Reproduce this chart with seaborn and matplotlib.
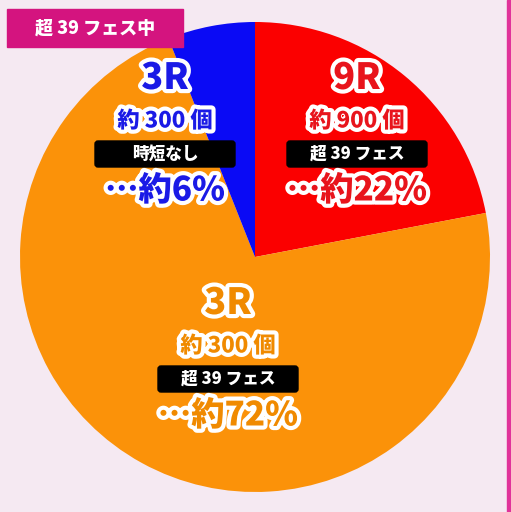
import matplotlib
matplotlib.use("Agg")
import matplotlib.pyplot as plt
import matplotlib.patheffects as pe
from matplotlib.patches import Rectangle, FancyBboxPatch
import seaborn as sns

sns.set_style("white")
plt.rcParams['font.family'] = ['Noto Sans CJK JP', 'DejaVu Sans']

labels = ["9R", "3R", "3R"]
counts = ["約 900 個", "約 300 個", "約 300 個"]
tags = ["超 39 フェス", "超 39 フェス", "時短なし"]
shares = [22, 72, 6]
colors = ["#fb0000", "#fb9209", "#0a0af5"]
text_colors = ["#e8141c", "#f08a00", "#1a1ae6"]
title = "超 39 フェス中"

H = 512
fig = plt.figure(figsize=(5.11, 5.12), dpi=100)
fig.patch.set_facecolor("#f5e9f2")
ax = fig.add_axes([0, 0, 1, 1])

ax.pie(shares, colors=colors, startangle=90, counterclock=False,
       center=(255, H - 257), radius=235, wedgeprops=dict(linewidth=0))
ax.set_xlim(0, 511); ax.set_ylim(0, H)
ax.set_aspect("auto")
ax.axis("off")

def Y(y):
    return H - y

ax.add_patch(Rectangle((507, 0), 4, H, color="#e0339a", zorder=5))
ax.add_patch(Rectangle((7, Y(47)), 176, 38, color="#d4147f", zorder=5))
ax.text(95, Y(28), title, color="white", fontsize=13, fontweight="heavy",
        ha="center", va="center", zorder=6)

stroke = [pe.withStroke(linewidth=6, foreground="white")]
pos = [(357, 78), (228, 303), (165, 78)]
for (x, y), lab, cnt, tag, sh, tc in zip(pos, labels, counts, tags, shares, text_colors):
    ax.text(x, Y(y), lab, color=tc, fontsize=26, fontweight="heavy", ha="center",
            va="center", path_effects=stroke, zorder=6)
    ax.text(x, Y(y + 43), cnt, color=tc, fontsize=16, fontweight="heavy", ha="center",
            va="center", path_effects=stroke, zorder=6)
    w = 140
    ax.add_patch(FancyBboxPatch((x - w / 2, Y(y + 89)), w, 26,
                 boxstyle="round,pad=0,rounding_size=3", color="black", zorder=6))
    ax.text(x, Y(y + 76), tag, color="white", fontsize=12, fontweight="heavy",
            ha="center", va="center", zorder=7)
    ax.text(x, Y(y + 112), f"…約{sh}%", color=tc, fontsize=24, fontweight="heavy",
            ha="center", va="center", path_effects=stroke, zorder=6)

fig.savefig("out.png", dpi=100, facecolor=fig.get_facecolor())
